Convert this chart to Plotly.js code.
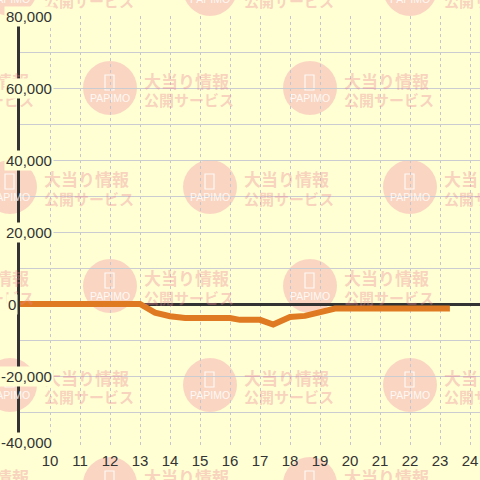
<!DOCTYPE html>
<html><head><meta charset="utf-8">
<script src="https://cdn.plot.ly/plotly-3.0.1.min.js"></script>
<style>html,body{margin:0;padding:0;background:#ffffd3;}#chart{width:480px;height:480px;}</style>
</head><body><div id="chart"></div>
<script>
// ---- data ----
const hours = [9, 13, 13.5, 14, 14.5, 15, 16, 16.33, 17, 17.44, 18, 18.5, 19, 19.5, 23.33];
const balance = [0, 0, -2400, -3400, -3900, -4000, -3900, -4400, -4400, -5700, -3600, -3300, -2200, -1250, -1250];
const xTickVals = [10, 11, 12, 13, 14, 15, 16, 17, 18, 19, 20, 21, 22, 23, 24];
const xTickText = ["10", "11", "12", "13", "14", "15", "16", "17", "18", "19", "20", "21", "22", "23", "24"];
const yTickVals = [80000, 60000, 40000, 20000, 0, -20000, -40000];
const yTickText = ["80,000", "60,000", "40,000", "20,000", "0", "-20,000", "-40,000"];
const wmLine1 = "大当り情報";
const wmLine2 = "公開サービス";
const wmLogo = "PAPIMO";

// ---- geometry helpers (plot area in pixels) ----
const L = 20, R = 480, T = 16, B = 448;
const px = x => (x - L) / (R - L);
const py = y => (B - y) / (B - T);

const BG = '#ffffd3';
const shapes = [];
const annotations = [];

// watermark pattern
const rowYs = [-11, 88, 187, 286, 385, 484];
rowYs.forEach((cy, i) => {
  const xs = (i % 2 === 0) ? [10, 210, 410] : [-90, 110, 310];
  xs.forEach(cx => {
    shapes.push({type: 'circle', layer: 'below', xref: 'paper', yref: 'paper',
      xsizemode: 'pixel', ysizemode: 'pixel', xanchor: px(cx), yanchor: py(cy),
      x0: -27, x1: 27, y0: -27, y1: 27,
      fillcolor: 'rgba(240,130,160,0.33)', line: {width: 0}});
    shapes.push({type: 'rect', layer: 'below', xref: 'paper', yref: 'paper',
      xsizemode: 'pixel', ysizemode: 'pixel', xanchor: px(cx), yanchor: py(cy),
      x0: -5, x1: 4, y0: -2, y1: 13,
      line: {color: 'rgba(255,255,255,0.85)', width: 1.2}});
    annotations.push({xref: 'paper', yref: 'paper', x: px(cx), y: py(cy + 10),
      text: wmLogo, showarrow: false, xanchor: 'center', yanchor: 'middle',
      font: {family: 'Liberation Sans', size: 10.5, color: 'rgba(255,255,255,0.85)'}});
    annotations.push({xref: 'paper', yref: 'paper', x: px(cx + 32), y: py(cy - 8),
      text: '<b>' + wmLine1 + '</b>', showarrow: false, xanchor: 'left', yanchor: 'middle',
      font: {family: 'Noto Sans CJK JP', size: 17, color: 'rgba(236,130,150,0.36)'}});
    annotations.push({xref: 'paper', yref: 'paper', x: px(cx + 32), y: py(cy + 11),
      text: '<b>' + wmLine2 + '</b>', showarrow: false, xanchor: 'left', yanchor: 'middle',
      font: {family: 'Noto Sans CJK JP', size: 15, color: 'rgba(236,130,150,0.36)'}});
  });
});

// y tick labels with background boxes (lowest one is lifted to stay inside the plot)
const yMin = Math.min(...yTickVals);
yTickVals.forEach((v, i) => {
  const right = yTickText[i] === '0' ? 17.5 : 54;
  annotations.push({xref: 'paper', yref: 'y', x: px(right), y: v,
    yshift: v === yMin ? 6 : 0,
    text: yTickText[i], showarrow: false, xanchor: 'right', yanchor: 'middle',
    bgcolor: BG, borderpad: 1,
    font: {family: 'Liberation Sans', size: 15, color: '#333'}});
});

const trace = {
  x: hours, y: balance, type: 'scatter', mode: 'lines',
  line: {color: '#e07a22', width: 6}, hoverinfo: 'skip', showlegend: false
};

const layout = {
  width: 480, height: 480,
  margin: {l: L, r: 480 - R, t: T, b: 480 - B, pad: 0},
  paper_bgcolor: BG, plot_bgcolor: 'rgba(0,0,0,0)',
  showlegend: false,
  xaxis: {range: [9, 24.333], tickvals: xTickVals, ticktext: xTickText,
    showgrid: true, gridcolor: '#c6c6cc', griddash: '3px,3px', gridwidth: 1,
    zeroline: false, showline: false, ticks: '', ticklabelstandoff: 2,
    tickfont: {family: 'Liberation Sans', size: 15, color: '#333'}, fixedrange: true},
  yaxis: {range: [-40000, 80000], tick0: 0, dtick: 10000, showticklabels: false,
    showgrid: true, gridcolor: '#cbcbd2', gridwidth: 1,
    zeroline: true, zerolinecolor: '#333', zerolinewidth: 3,
    showline: true, linecolor: '#333', linewidth: 3, ticks: '', fixedrange: true},
  shapes: shapes,
  annotations: annotations
};

Plotly.newPlot('chart', [trace], layout, {staticPlot: true, displayModeBar: false});
</script>
</body></html>
